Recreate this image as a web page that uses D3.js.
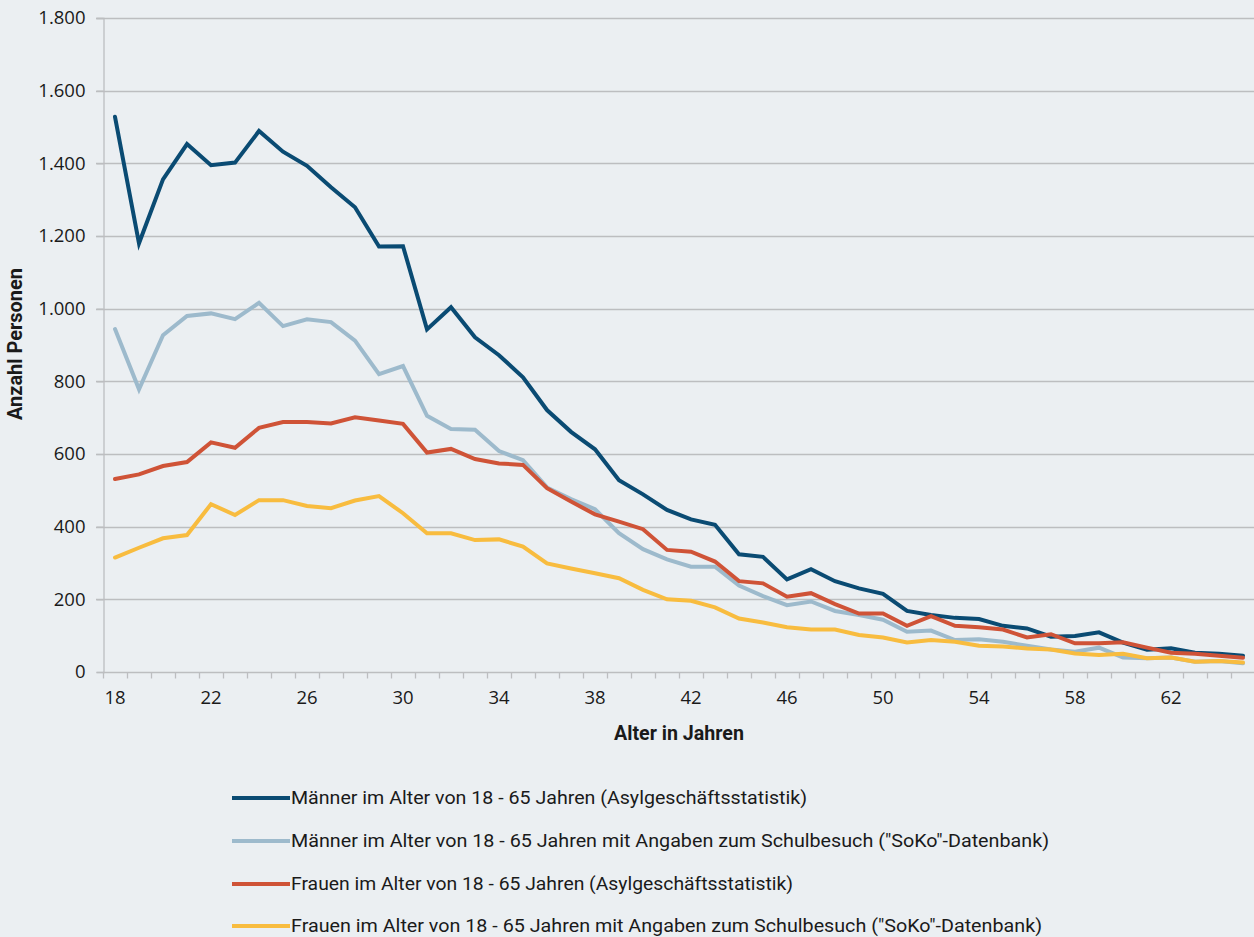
<!DOCTYPE html>
<html><head><meta charset="utf-8">
<script src="https://cdn.jsdelivr.net/npm/d3@7"></script>
<style>
html,body{margin:0;padding:0;background:#ebeff2;}
svg{display:block;}
</style></head>
<body>
<svg id="chart" width="1254" height="937"></svg>
<script>
const ages = [18,19,20,21,22,23,24,25,26,27,28,29,30,31,32,33,34,35,36,37,38,39,40,41,42,43,44,45,46,47,48,49,50,51,52,53,54,55,56,57,58,59,60,61,62,63,64,65];
const maennerAsyl = [1528,1180,1356,1453,1395,1402,1489,1432,1393,1334,1279,1171,1172,943,1004,921,872,811,721,661,613,528,489,446,420,405,324,317,255,283,250,230,215,168,157,149,146,127,120,97,99,109,81,61,65,53,50,45];
const maennerSoko = [944,778,927,980,987,971,1016,952,971,963,912,820,842,705,669,667,608,583,508,476,448,382,338,310,290,290,238,209,184,194,168,157,144,111,114,88,90,83,72,62,56,67,40,38,40,28,30,24];
const frauenAsyl = [531,544,567,578,632,617,672,688,688,684,701,692,683,604,614,586,574,570,506,469,434,414,393,336,331,304,250,244,207,217,187,161,161,127,154,127,123,117,95,104,79,79,82,67,53,50,45,39];
const frauenSoko = [315,342,368,377,462,432,473,473,457,451,472,484,437,382,382,363,365,345,299,285,272,258,226,200,196,178,147,136,123,117,117,102,95,81,88,83,72,70,65,62,51,47,50,38,40,28,30,26];
const xTickLabels = [18,22,26,30,34,38,42,46,50,54,58,62];
const yTicks = [0,200,400,600,800,1000,1200,1400,1600,1800];
const seriesNames = [
  'Männer im Alter von 18 - 65 Jahren (Asylgeschäftsstatistik)',
  'Männer im Alter von 18 - 65 Jahren mit Angaben zum Schulbesuch ("SoKo"-Datenbank)',
  'Frauen im Alter von 18 - 65 Jahren (Asylgeschäftsstatistik)',
  'Frauen im Alter von 18 - 65 Jahren mit Angaben zum Schulbesuch ("SoKo"-Datenbank)'
];
const seriesColors = ['#0a4b73','#9dbacc','#cf5337','#f8bc3f'];
const seriesValues = [maennerAsyl, maennerSoko, frauenAsyl, frauenSoko];

(function(){
const svg = d3.select('#chart');
const pLeft = 103, pRight = 1255, pTop = 18, pBottom = 672;
const x = d3.scaleBand().domain(ages).range([pLeft, pRight]).paddingInner(0).paddingOuter(0);
const y = d3.scaleLinear().domain([0,1800]).range([pBottom, pTop]);
const de = d3.formatLocale({decimal:",", thousands:".", grouping:[3], currency:["","€"]});
const fmt = de.format(",d");
const gridColor = '#bcbec0';
const fontMain = "'Open Sans','Noto Sans',sans-serif";
const fontCond = "'Roboto','Noto Sans',sans-serif";

// gridlines
svg.append('g').selectAll('line').data(yTicks.filter(d=>d>0)).join('line')
  .attr('x1', pLeft-7).attr('x2', 1254)
  .attr('y1', d=>Math.round(y(d))+0.5).attr('y2', d=>Math.round(y(d))+0.5)
  .attr('stroke', gridColor).attr('stroke-width', 1.3);

// y axis
const yAxis = svg.append('g').attr('transform', `translate(${pLeft+0.5},0)`)
  .call(d3.axisLeft(y).tickValues(yTicks).tickFormat(fmt).tickSize(7).tickPadding(11));
yAxis.select('.domain').attr('stroke', gridColor).attr('stroke-width',1.3);
yAxis.selectAll('.tick line').attr('stroke', gridColor).attr('stroke-width',1.3);
yAxis.selectAll('.tick text').attr('fill','#1a1a1a').attr('font-family', fontMain).attr('font-size', 18.5);

// x axis
const xAxis = svg.append('g').attr('transform', `translate(0,${pBottom+0.5})`)
  .call(d3.axisBottom(x).tickValues(xTickLabels).tickSize(0).tickPadding(18));
xAxis.select('.domain').attr('stroke', gridColor).attr('stroke-width',1.3).attr('d', `M${pLeft},0H1254`);
xAxis.selectAll('.tick text').attr('fill','#1a1a1a').attr('font-family', fontMain).attr('font-size', 18.5);
xAxis.selectAll('line.bt').data(ages).join('line').attr('class','bt')
  .attr('x1', d=>Math.round(x(d))+0.5).attr('x2', d=>Math.round(x(d))+0.5)
  .attr('y1', 0).attr('y2', 6).attr('stroke', gridColor).attr('stroke-width',1.3);

// lines
const line = d3.line().x((d,i)=>x(ages[i]) + x.bandwidth()/2).y(d=>y(d));
svg.append('g').selectAll('path').data(seriesValues).join('path')
  .attr('d', d=>line(d)).attr('fill','none')
  .attr('stroke', (d,i)=>seriesColors[i]).attr('stroke-width', 4)
  .attr('stroke-linejoin','miter').attr('stroke-linecap','round');

// axis titles
svg.append('text').attr('x', 614).attr('y', 740)
  .attr('font-family', fontCond).attr('font-weight','bold').attr('font-size', 19.5).attr('fill','#1a1a1a')
  .attr('textLength', 130).attr('lengthAdjust','spacingAndGlyphs')
  .text('Alter in Jahren');
svg.append('text').attr('transform','translate(22,420) rotate(-90)')
  .attr('font-family', fontCond).attr('font-weight','bold').attr('font-size', 19.5).attr('fill','#1a1a1a')
  .attr('textLength', 152).attr('lengthAdjust','spacingAndGlyphs')
  .text('Anzahl Personen');

// legend
const legY = [798, 841, 884, 926];
const legW = [516, 758, 502, 751];
const leg = svg.append('g').selectAll('g').data(seriesNames).join('g')
  .attr('transform', (d,i)=>`translate(0,${legY[i]})`);
leg.append('line').attr('x1',232).attr('x2',290).attr('y1',0).attr('y2',0)
  .attr('stroke',(d,i)=>seriesColors[i]).attr('stroke-width',4);
leg.append('text').attr('x', 291).attr('y', 6)
  .attr('font-family', fontCond).attr('font-size', 19).attr('fill','#1a1a1a')
  .attr('textLength', (d,i)=>legW[i]).attr('lengthAdjust','spacingAndGlyphs')
  .text(d=>d);
})();
</script>
</body></html>
